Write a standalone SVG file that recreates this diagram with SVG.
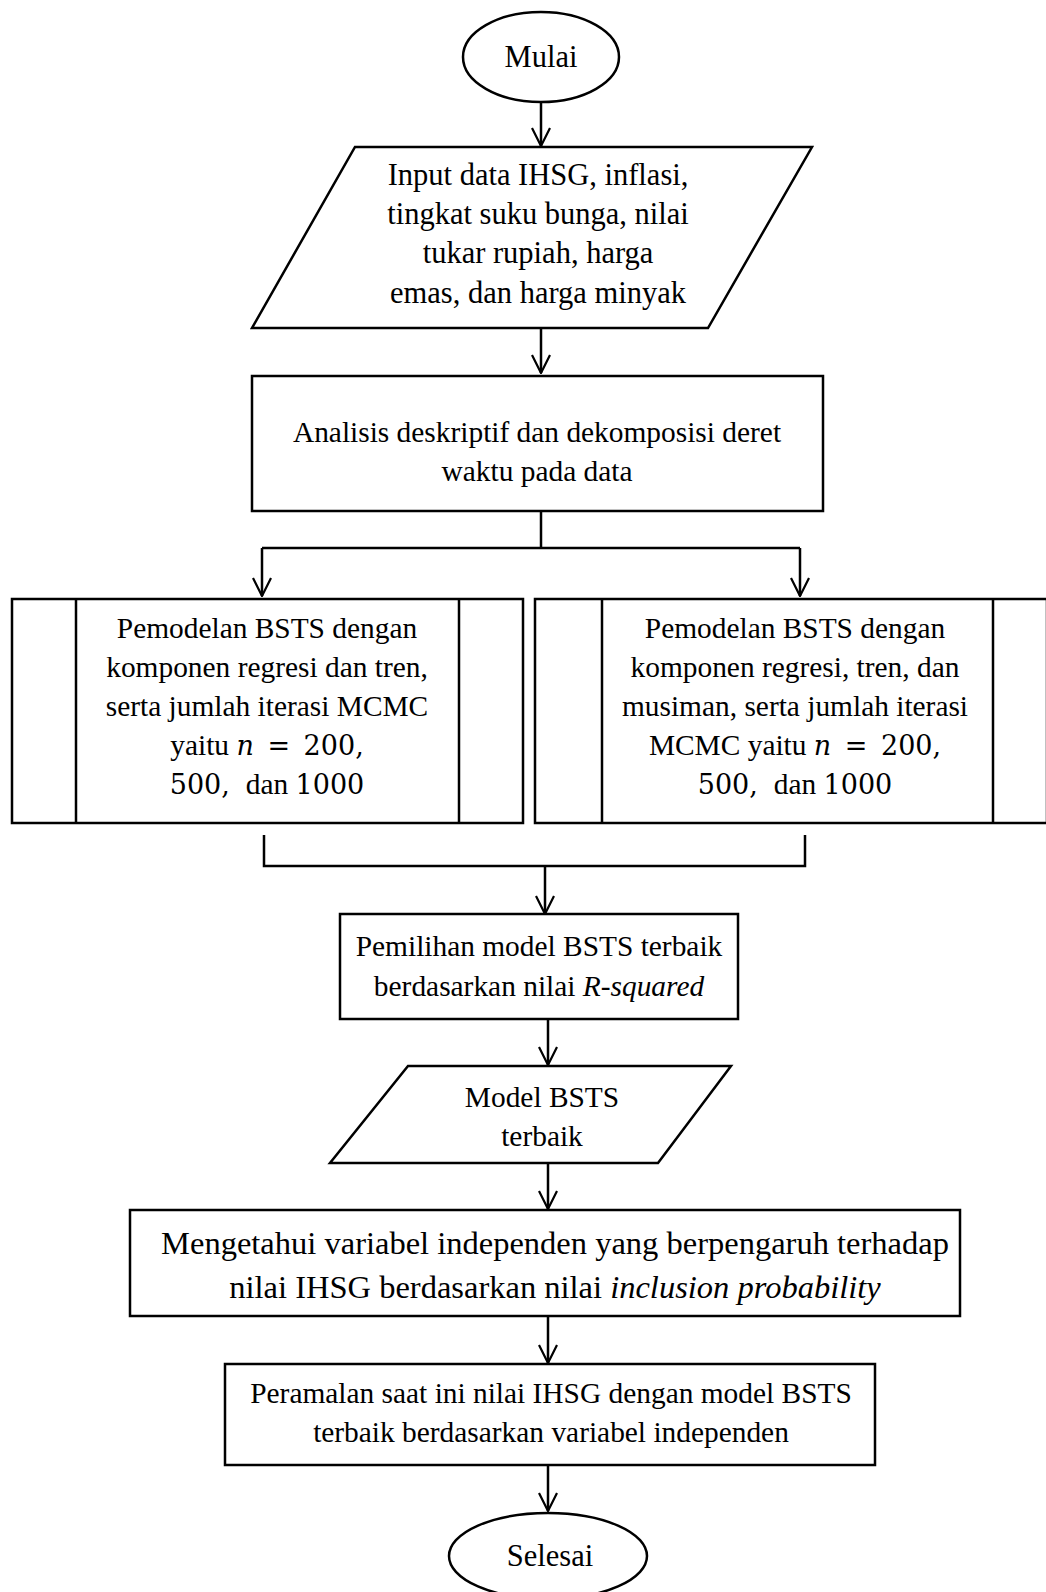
<svg xmlns="http://www.w3.org/2000/svg" width="1046" height="1592" viewBox="0 0 1046 1592">
<style>
.s{fill:#fff;stroke:#000;stroke-width:2.5}
.c{fill:none;stroke:#000;stroke-width:2.5}
text{font-family:"Liberation Serif","Times New Roman",serif;font-size:29.4px;fill:#000;text-anchor:middle;dominant-baseline:central}
.big{font-size:32.5px}
.inp{font-size:30.5px}
.term{font-size:30.5px}
.i{font-style:italic}
text.ab{dominant-baseline:alphabetic}
.m{font-family:"DejaVu Serif",serif;font-size:27px}
.mi{font-family:"DejaVu Serif",serif;font-size:27px;font-style:italic}
</style>
<defs>
<marker id="a" viewBox="0 0 20 20" refX="19" refY="10" markerWidth="20" markerHeight="20" markerUnits="userSpaceOnUse" orient="auto">
<path d="M1,1 L19,10 L1,19" fill="none" stroke="#000" stroke-width="2.2"/>
</marker>
</defs>
<rect width="1046" height="1592" fill="#fff"/>
<g id="connectors">
<line class="c" x1="541" y1="102" x2="541" y2="146" marker-end="url(#a)"/>
<line class="c" x1="541" y1="328" x2="541" y2="373" marker-end="url(#a)"/>
<polyline class="c" points="541,511 541,548"/>
<line class="c" x1="262" y1="548" x2="800" y2="548"/>
<line class="c" x1="262" y1="548" x2="262" y2="596" marker-end="url(#a)"/>
<line class="c" x1="800" y1="548" x2="800" y2="596" marker-end="url(#a)"/>
<polyline class="c" points="264,835 264,866 805,866 805,835"/>
<line class="c" x1="545" y1="866" x2="545" y2="914" marker-end="url(#a)"/>
<line class="c" x1="548" y1="1019" x2="548" y2="1065" marker-end="url(#a)"/>
<line class="c" x1="548" y1="1163" x2="548" y2="1209" marker-end="url(#a)"/>
<line class="c" x1="548" y1="1316" x2="548" y2="1363" marker-end="url(#a)"/>
<line class="c" x1="548" y1="1465" x2="548" y2="1511" marker-end="url(#a)"/>
</g>
<g id="mulai">
<ellipse class="s" cx="541" cy="57" rx="78" ry="45"/>
<text class="term" x="541" y="57">Mulai</text>
</g>
<g id="input">
<polygon class="s" points="355,147 812,147 708,328 252,328"/>
<text class="inp" x="538" y="175">Input data IHSG, inflasi,</text>
<text class="inp" x="538" y="214">tingkat suku bunga, nilai</text>
<text class="inp" x="538" y="253">tukar rupiah, harga</text>
<text class="inp" x="538" y="293">emas, dan harga minyak</text>
</g>
<g id="analisis">
<rect class="s" x="252" y="376" width="571" height="135"/>
<text x="537" y="432">Analisis deskriptif dan dekomposisi deret</text>
<text x="537" y="471">waktu pada data</text>
</g>
<g id="bsts1">
<rect class="s" x="12" y="599" width="511" height="224"/>
<line class="c" x1="76" y1="599" x2="76" y2="823"/>
<line class="c" x1="459" y1="599" x2="459" y2="823"/>
<text x="267" y="628">Pemodelan BSTS dengan</text>
<text x="267" y="667">komponen regresi dan tren,</text>
<text x="267" y="706">serta jumlah iterasi MCMC</text>
<text class="ab" x="267" y="755">yaitu <tspan class="mi">n</tspan><tspan class="m" dx="5"> = </tspan><tspan class="m" dx="5">200,</tspan></text>
<text class="ab" x="267" y="794" xml:space="preserve"><tspan class="m">500, </tspan> dan <tspan class="m">1000</tspan></text>
</g>
<g id="bsts2">
<rect class="s" x="535" y="599" width="512" height="224"/>
<line class="c" x1="602" y1="599" x2="602" y2="823"/>
<line class="c" x1="993" y1="599" x2="993" y2="823"/>
<text x="795" y="628">Pemodelan BSTS dengan</text>
<text x="795" y="667">komponen regresi, tren, dan</text>
<text x="795" y="706">musiman, serta jumlah iterasi</text>
<text class="ab" x="795" y="755">MCMC yaitu <tspan class="mi">n</tspan><tspan class="m" dx="5"> = </tspan><tspan class="m" dx="5">200,</tspan></text>
<text class="ab" x="795" y="794" xml:space="preserve"><tspan class="m">500, </tspan> dan <tspan class="m">1000</tspan></text>
</g>
<g id="pemilihan">
<rect class="s" x="340" y="914" width="398" height="105"/>
<text x="539" y="946">Pemilihan model BSTS terbaik</text>
<text x="539" y="986">berdasarkan nilai <tspan class="i">R-squared</tspan></text>
</g>
<g id="model">
<polygon class="s" points="408,1066 731,1066 658,1163 330,1163"/>
<text x="542" y="1097">Model BSTS</text>
<text x="542" y="1136">terbaik</text>
</g>
<g id="mengetahui">
<rect class="s" x="130" y="1210" width="830" height="106"/>
<text class="big" x="555" y="1243">Mengetahui variabel independen yang berpengaruh terhadap</text>
<text class="big" x="555" y="1287">nilai IHSG berdasarkan nilai <tspan class="i">inclusion probability</tspan></text>
</g>
<g id="peramalan">
<rect class="s" x="225" y="1364" width="650" height="101"/>
<text x="551" y="1393">Peramalan saat ini nilai IHSG dengan model BSTS</text>
<text x="551" y="1432">terbaik berdasarkan variabel independen</text>
</g>
<g id="selesai">
<ellipse class="s" cx="548" cy="1556" rx="99" ry="43"/>
<text class="term" x="550" y="1556">Selesai</text>
</g>
</svg>
